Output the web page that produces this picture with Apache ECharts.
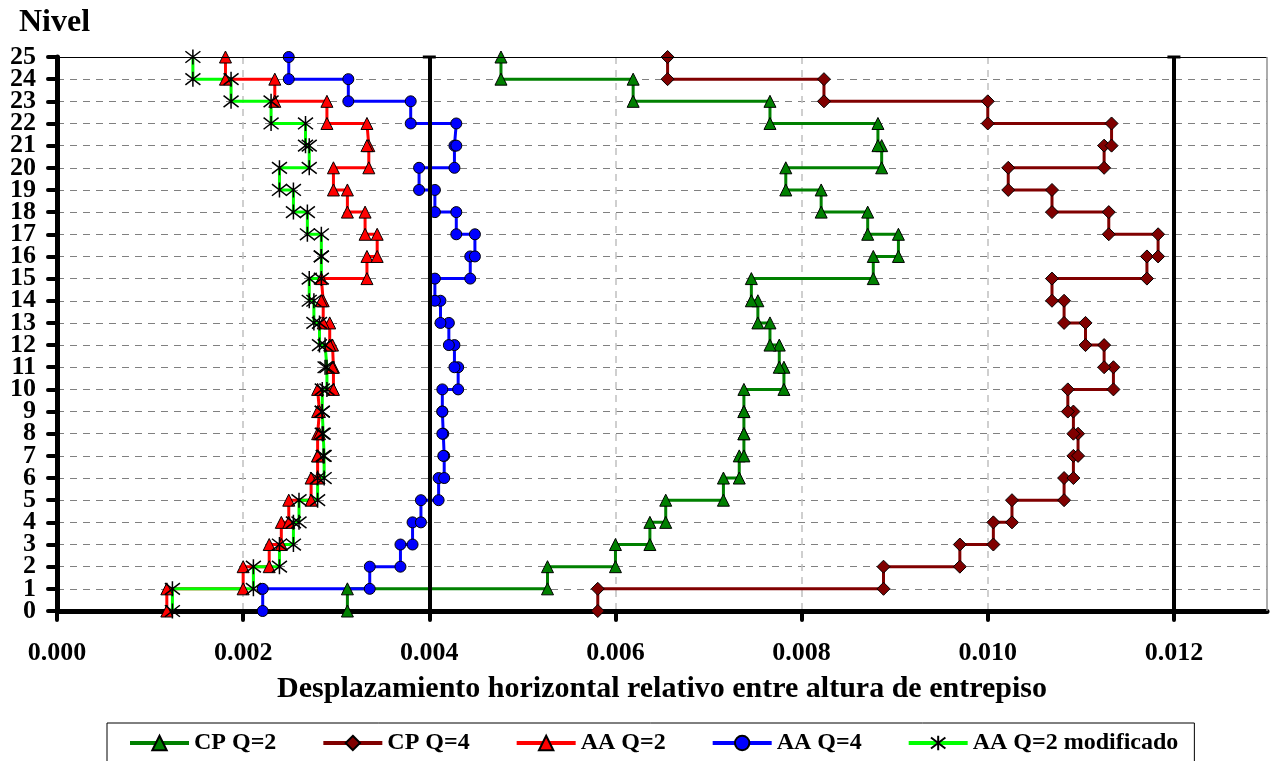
<!DOCTYPE html>
<html>
<head>
<meta charset="utf-8">
<script src="https://cdn.jsdelivr.net/npm/echarts@6/dist/echarts.min.js"></script>
<style>
html,body{margin:0;padding:0;background:#fff;}
#chart{width:1273px;height:761px;}
</style>
</head>
<body>
<div id="chart"></div>
<script>
// Story drift values: story i spans levels i-1 .. i
const levels = [0,1,2,3,4,5,6,7,8,9,10,11,12,13,14,15,16,17,18,19,20,21,22,23,24,25];
const xTicks = [0, 0.002, 0.004, 0.006, 0.008, 0.010, 0.012];
const refLines = [0.004, 0.012];
const seriesNames = ['CP Q=2', 'CP Q=4', 'AA Q=2', 'AA Q=4', 'AA Q=2 modificado'];

const cpQ2 = [0.00312, 0.00527, 0.00600, 0.00637, 0.00654, 0.00716, 0.00733, 0.00738, 0.00738, 0.00738,
              0.00781, 0.00776, 0.00766, 0.00753, 0.00746, 0.00877, 0.00904, 0.00871, 0.00821, 0.00783,
              0.00886, 0.00882, 0.00766, 0.00619, 0.00477];
const cpQ4 = [0.00581, 0.00888, 0.00970, 0.01006, 0.01026, 0.01082, 0.01092, 0.01097, 0.01092, 0.01086,
              0.01135, 0.01125, 0.01105, 0.01082, 0.01069, 0.01171, 0.01183, 0.01130, 0.01069, 0.01022,
              0.01125, 0.01133, 0.01000, 0.00824, 0.00656];
const aaQ2 = [0.00118, 0.00200, 0.00228, 0.00241, 0.00249, 0.00273, 0.00280, 0.00280, 0.00282, 0.00280,
              0.00297, 0.00296, 0.00293, 0.00286, 0.00284, 0.00333, 0.00344, 0.00331, 0.00312, 0.00297,
              0.00335, 0.00333, 0.00290, 0.00234, 0.00181];
const aaQ4 = [0.00221, 0.00336, 0.00369, 0.00382, 0.00391, 0.00410, 0.00416, 0.00415, 0.00414, 0.00414,
              0.00431, 0.00427, 0.00421, 0.00412, 0.00406, 0.00444, 0.00449, 0.00429, 0.00406, 0.00389,
              0.00427, 0.00429, 0.00380, 0.00313, 0.00249];
const aaQ2mod = [0.00124, 0.00211, 0.00239, 0.00254, 0.00260, 0.00280, 0.00287, 0.00286, 0.00285, 0.00285,
                 0.00290, 0.00288, 0.00282, 0.00276, 0.00271, 0.00284, 0.00284, 0.00269, 0.00254, 0.00239,
                 0.00271, 0.00267, 0.00230, 0.00187, 0.00146];

function steps(vals) {
  const pts = [];
  vals.forEach((v, i) => { pts.push([v, levels[i]]); pts.push([v, levels[i + 1]]); });
  return pts;
}

const FONT = "'Liberation Serif', 'DejaVu Serif', serif";
const ASTER = 'path://M0,0L10,10M10,0L0,10M5,-1.5L5,11.5';
const yMin = levels[0], yMax = levels[levels.length - 1];

function mkSeries(name, vals, color, symbol, size, extra) {
  return Object.assign({
    name: name,
    type: 'line',
    data: steps(vals),
    symbol: symbol,
    symbolSize: size,
    showSymbol: true,
    showAllSymbol: true,
    lineStyle: { color: color, width: 3 },
    itemStyle: { color: color, borderColor: '#000', borderWidth: 1 },
    emphasis: { disabled: true },
    z: 3
  }, extra || {});
}

const markLines = [
  [{ coord: [0, yMax] }, { coord: [0.013, yMax] }],
  [{ coord: [0.013, yMin] }, { coord: [0.013, yMax], lineStyle: { color: '#909090', width: 1.5, type: 'solid' } }]
];
refLines.forEach(v => {
  markLines.push([
    { coord: [v, yMin], symbol: 'none' },
    { coord: [v, yMax], symbol: 'rect', symbolSize: [13, 3], lineStyle: { color: '#000', width: 4, type: 'solid' } }
  ]);
});

const chart = echarts.init(document.getElementById('chart'), null, { renderer: 'canvas' });
chart.setOption({
  animation: false,
  backgroundColor: '#fff',
  title: {
    text: 'Nivel', left: 19, top: 7, padding: 0,
    textStyle: { fontFamily: FONT, fontWeight: 'bold', fontSize: 32, color: '#000' }
  },
  grid: { left: 57, right: 6, top: 57, bottom: 150, containLabel: false },
  legend: {
    data: seriesNames,
    left: 107, top: 723,
    padding: [8, 16, 8, 21],
    itemGap: 45,
    itemWidth: 59, itemHeight: 18,
    lineStyle: { width: 4 },
    borderColor: '#000', borderWidth: 1,
    textStyle: { fontFamily: FONT, fontWeight: 'bold', fontSize: 24, color: '#000' }
  },
  xAxis: {
    type: 'value', min: 0, max: 0.013, interval: 0.002,
    name: 'Desplazamiento horizontal relativo entre altura de entrepiso',
    nameLocation: 'middle', nameGap: 63,
    nameTextStyle: { fontFamily: FONT, fontWeight: 'bold', fontSize: 30, color: '#000' },
    axisLine: { show: true, onZero: false, lineStyle: { color: '#000', width: 5, cap: 'round' } },
    axisTick: { show: true, customValues: xTicks, length: 9, lineStyle: { color: '#000', width: 4, cap: 'round' } },
    axisLabel: {
      customValues: xTicks, margin: 29,
      formatter: v => v.toFixed(3),
      fontFamily: FONT, fontWeight: 'bold', fontSize: 26, color: '#000'
    },
    splitLine: { show: true, lineStyle: { color: '#c0c0c0', width: 1.5, type: [7, 6] } }
  },
  yAxis: {
    type: 'category', data: levels.map(String), boundaryGap: false,
    axisLine: { show: true, onZero: false, lineStyle: { color: '#000', width: 5, cap: 'round' } },
    axisTick: { show: true, interval: 0, length: 9, lineStyle: { color: '#000', width: 4, cap: 'round' } },
    axisLabel: { interval: 0, margin: 21,
      fontFamily: FONT, fontWeight: 'bold', fontSize: 26, color: '#000' },
    splitLine: { show: true, interval: 0, lineStyle: { color: '#808080', width: 1, type: [7, 6] } }
  },
  series: [
    mkSeries('CP Q=2', cpQ2, '#008000', 'triangle', 12, {
      markLine: {
        silent: true, animation: false, label: { show: false },
        symbol: ['none', 'none'],
        lineStyle: { color: '#000', width: 1.2, type: 'solid' },
        emphasis: { disabled: true },
        data: markLines
      }
    }),
    mkSeries('CP Q=4', cpQ4, '#800000', 'diamond', 13),
    mkSeries('AA Q=2', aaQ2, '#ff0000', 'triangle', 12),
    mkSeries('AA Q=4', aaQ4, '#0000ff', 'circle', 11),
    mkSeries('AA Q=2 modificado', aaQ2mod, '#00ff00', ASTER, 15, {
      itemStyle: { color: 'rgba(0,0,0,0)', borderColor: '#000', borderWidth: 1.5 }
    })
  ]
});
</script>
</body>
</html>
